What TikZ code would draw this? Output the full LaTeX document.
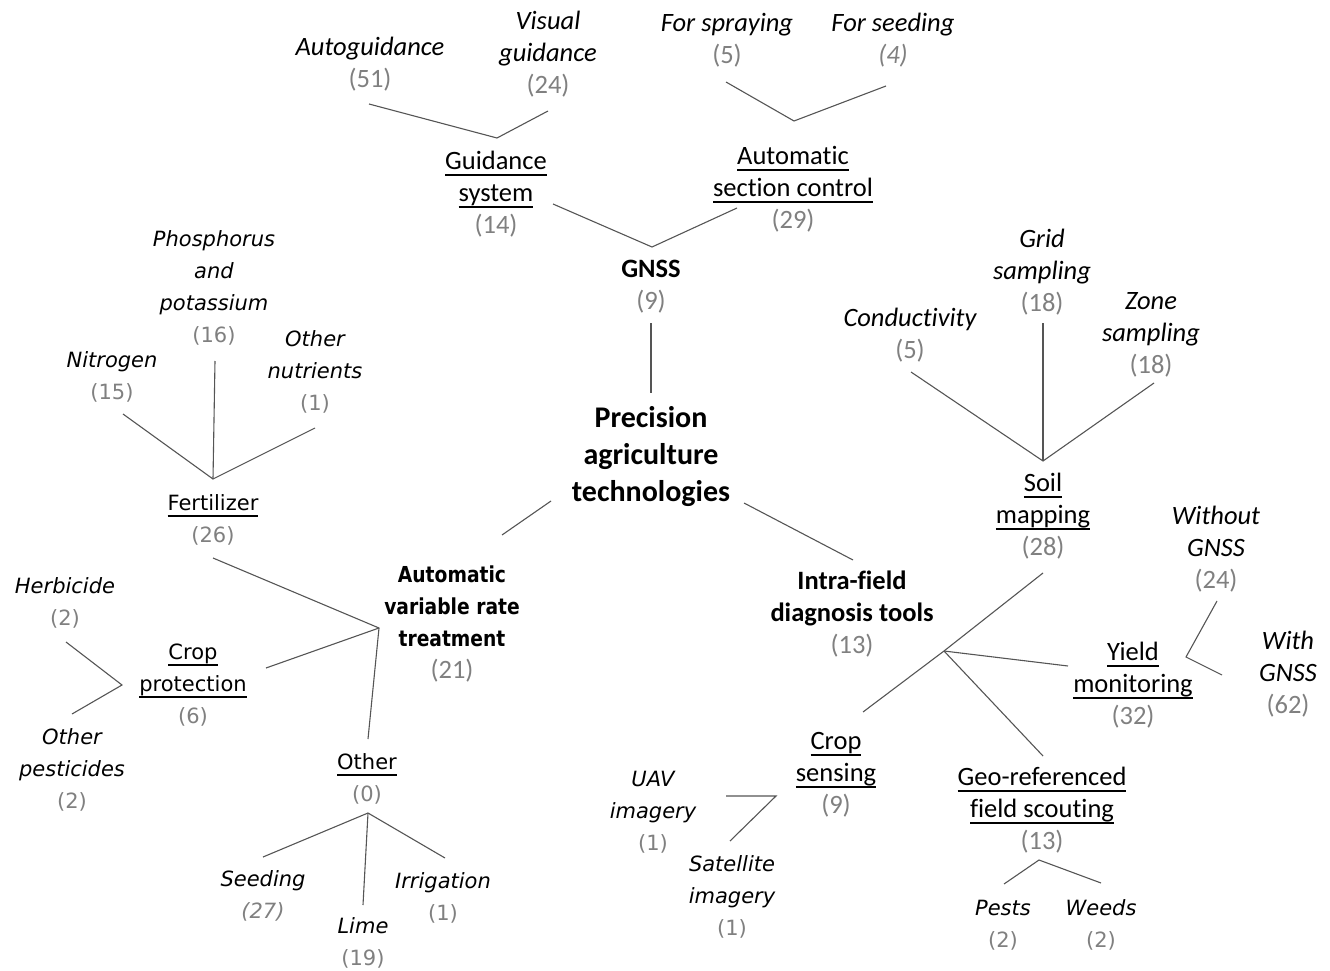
\documentclass[tikz,border=0pt]{standalone}
\usepackage{fontspec}
\setmainfont{Carlito}[Ligatures=NoCommon]
\newfontfamily\vfont{DejaVu Sans}
\newfontfamily\vbfont{DejaVu Sans}[FakeStretch=0.85]
\definecolor{numgray}{RGB}{128,128,128}
\definecolor{linegray}{RGB}{85,85,85}
\newsavebox\ulbox
\newcommand\ul[1]{\sbox\ulbox{#1}\rlap{\rule[-6.5pt]{\wd\ulbox}{1.5pt}}\usebox\ulbox}
\newcommand\sr{\strut}
\newcommand\cnt[1]{{\upshape\mdseries\color{numgray}(#1)}}
\newcommand\icnt[1]{{\itshape\mdseries\color{numgray}(#1)}}
\tikzset{
  lab/.style={inner sep=0pt, align=center, text=black},
  cal/.style={lab, font=\fontsize{26.5}{32}\selectfont},
  cali/.style={lab, font=\fontsize{26.5}{32}\selectfont\itshape},
  calb/.style={lab, font=\fontsize{26.5}{32}\selectfont\bfseries},
  big/.style={lab, font=\fontsize{30}{37}\selectfont\bfseries},
  ver/.style={lab, font=\vfont\fontsize{21}{32}\selectfont},
  veri/.style={lab, font=\vfont\fontsize{21}{32}\selectfont\itshape},
  verb/.style={lab, font=\vbfont\fontsize{22}{32}\selectfont\bfseries},
  conn/.style={draw=linegray, line width=1.1pt},
}
\begin{document}
\begin{tikzpicture}[x=1pt,y=-1pt]
\path[use as bounding box] (0,0) rectangle (1330,971);
% ---------- top (GNSS branch)
\node[cali] (auto) at (370,65) {\sr Autoguidance\\\sr\cnt{51}};
\node[cali] (vis) at (548,55) {\sr Visual\\\sr guidance\\\sr\cnt{24}};
\node[cali] (spray) at (727,41) {\sr For spraying\\\sr\cnt{5}};
\node[cali] (seed) at (893,41) {\sr For seeding\\\sr\icnt{4}};
\node[cal] (guid) at (496,195) {\sr\ul{Guidance}\\\sr\ul{system}\\\sr\cnt{14}};
\node[cal] (asc) at (793,190) {\sr\ul{Automatic}\\\sr\ul{section control}\\\sr\cnt{29}};
\node[calb] (gnss) at (651,287) {\sr GNSS\\\sr\cnt{9}};
\node[big] (pat) at (651,457) {\sr Precision\\\sr agriculture\\\sr technologies};
% ---------- left (variable rate branch)
\node[veri] (pk) at (214,288) {\sr Phosphorus\\\sr and\\\sr potassium\\\sr\cnt{16}};
\node[veri] (nit) at (112,377) {\sr Nitrogen\\\sr\cnt{15}};
\node[veri] (on) at (315,372) {\sr Other\\\sr nutrients\\\sr\cnt{1}};
\node[ver] (fert) at (213,520) {\sr\ul{Fertilizer}\\\sr\cnt{26}};
\node[verb] (avrt) at (452,624) {\sr Automatic\\\sr variable rate\\\sr treatment\\\sr{\normalfont\fontsize{26.5}{32}\selectfont\cnt{21}}};
\node[veri] (herb) at (65,603) {\sr Herbicide\\\sr\cnt{2}};
\node[ver] (cp) at (193,685) {\sr\ul{Crop}\\\sr\ul{protection}\\\sr\cnt{6}};
\node[veri] (op) at (72,770) {\sr Other\\\sr pesticides\\\sr\cnt{2}};
\node[ver] (oth) at (367,779) {\sr\ul{Other}\\\sr\cnt{0}};
\node[veri] (seedg) at (263,896) {\sr Seeding\\\sr\icnt{27}};
\node[veri] (lime) at (363,943) {\sr Lime\\\sr\cnt{19}};
\node[veri] (irr) at (443,898) {\sr Irrigation\\\sr\cnt{1}};
% ---------- right (diagnosis branch)
\node[cali] (cond) at (910,336) {\sr Conductivity\\\sr\cnt{5}};
\node[cali] (grid) at (1042,273) {\sr Grid\\\sr sampling\\\sr\cnt{18}};
\node[cali] (zone) at (1151,335) {\sr Zone\\\sr sampling\\\sr\cnt{18}};
\node[cal] (soil) at (1043,517) {\sr\ul{Soil}\\\sr\ul{mapping}\\\sr\cnt{28}};
\node[calb] (ifd) at (852,615) {\sr Intra-field\\\sr diagnosis tools\\\sr\cnt{13}};
\node[cali] (wo) at (1216,550) {\sr Without\\\sr GNSS\\\sr\cnt{24}};
\node[cali] (wi) at (1288,675) {\sr With\\\sr GNSS\\\sr\cnt{62}};
\node[cal] (yield) at (1133,686) {\sr\ul{Yield}\\\sr\ul{monitoring}\\\sr\cnt{32}};
\node[cal] (cs) at (836,775) {\sr\ul{Crop}\\\sr\ul{sensing}\\\sr\cnt{9}};
\node[cal] (geo) at (1042,811) {\sr\ul{Geo-referenced}\\\sr\ul{field scouting}\\\sr\cnt{13}};
\node[veri] (uav) at (653,812) {\sr UAV\\\sr imagery\\\sr\cnt{1}};
\node[veri] (sat) at (732,897) {\sr Satellite\\\sr imagery\\\sr\cnt{1}};
\node[veri] (pests) at (1003,925) {\sr Pests\\\sr\cnt{2}};
\node[veri] (weeds) at (1101,925) {\sr Weeds\\\sr\cnt{2}};
% ---------- connector end points
\coordinate (auto-e) at (369,104);
\coordinate (vis-e) at (548,111);
\coordinate (guid-j) at (497,138);
\coordinate (spray-e) at (726,82);
\coordinate (seed-e) at (886,86);
\coordinate (asc-j) at (794,121);
\coordinate (guid-e) at (553,204);
\coordinate (asc-e) at (737,208);
\coordinate (gnss-j) at (652,247);
\coordinate (gnss-e) at (651,323);
\coordinate (pat-n) at (651,393);
\coordinate (pat-w) at (551,501);
\coordinate (avrt-e) at (502,535);
\coordinate (pat-e) at (744,503);
\coordinate (ifd-e) at (853,560);
\coordinate (nit-e) at (123,414);
\coordinate (pk-e) at (215,361);
\coordinate (on-e) at (315,428);
\coordinate (fert-j) at (213,479);
\coordinate (fert-e) at (213,558);
\coordinate (avrt-j) at (379,628);
\coordinate (cp-e) at (266,668);
\coordinate (oth-n) at (368,739);
\coordinate (herb-e) at (66,642);
\coordinate (cp-j) at (122,685);
\coordinate (op-e) at (72,714);
\coordinate (oth-j) at (368,813);
\coordinate (seedg-e) at (263,857);
\coordinate (lime-e) at (363,905);
\coordinate (irr-e) at (445,858);
\coordinate (cond-e) at (911,372);
\coordinate (grid-e) at (1043,323);
\coordinate (zone-e) at (1154,383);
\coordinate (soil-j) at (1043,461);
\coordinate (soil-e) at (1043,573);
\coordinate (ifd-j) at (944,651);
\coordinate (cs-e) at (863,712);
\coordinate (yield-e) at (1068,666);
\coordinate (geo-e) at (1043,756);
\coordinate (wo-e) at (1217,601);
\coordinate (yield-k) at (1186,657);
\coordinate (wi-e) at (1222,675);
\coordinate (uav-e) at (726,796);
\coordinate (cs-j) at (776,796);
\coordinate (sat-e) at (730,841);
\coordinate (geo-j) at (1039,860);
\coordinate (pests-e) at (1004,884);
\coordinate (weeds-e) at (1101,883);
% ---------- connectors
\draw[conn] (auto-e) -- (guid-j) -- (vis-e);
\draw[conn] (spray-e) -- (asc-j) -- (seed-e);
\draw[conn] (guid-e) -- (gnss-j) -- (asc-e);
\draw[conn] (gnss-e) -- (pat-n);
\draw[conn] (pat-w) -- (avrt-e);
\draw[conn] (pat-e) -- (ifd-e);
\draw[conn] (nit-e) -- (fert-j) -- (on-e);
\draw[conn] (pk-e) -- (fert-j);
\draw[conn] (fert-e) -- (avrt-j) -- (oth-n);
\draw[conn] (cp-e) -- (avrt-j);
\draw[conn] (herb-e) -- (cp-j) -- (op-e);
\draw[conn] (seedg-e) -- (oth-j) -- (irr-e);
\draw[conn] (oth-j) -- (lime-e);
\draw[conn] (cond-e) -- (soil-j) -- (zone-e);
\draw[conn] (grid-e) -- (soil-j);
\draw[conn] (soil-e) -- (ifd-j) -- (cs-e);
\draw[conn] (ifd-j) -- (yield-e);
\draw[conn] (ifd-j) -- (geo-e);
\draw[conn] (wo-e) -- (yield-k) -- (wi-e);
\draw[conn] (uav-e) -- (cs-j) -- (sat-e);
\draw[conn] (pests-e) -- (geo-j) -- (weeds-e);
\end{tikzpicture}
\end{document}
